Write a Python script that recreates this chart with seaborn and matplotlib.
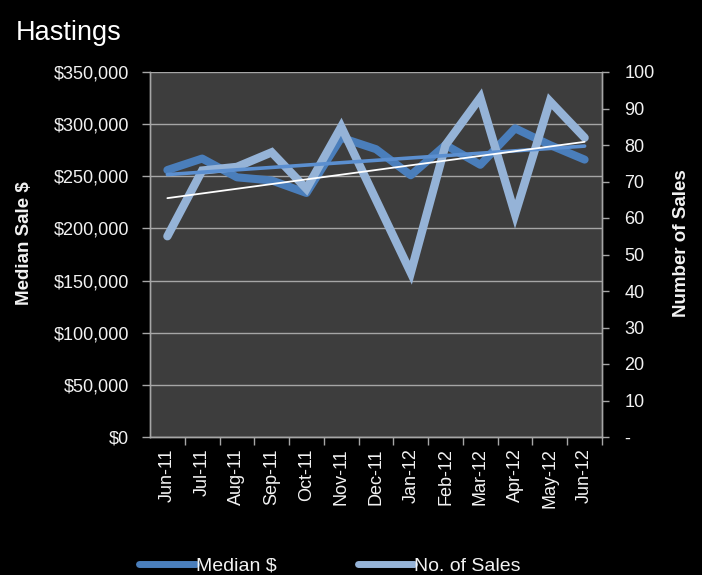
import numpy as np
import matplotlib
matplotlib.use("Agg")
import matplotlib.pyplot as plt
import matplotlib.ticker as mticker
import seaborn as sns

# ---- data ----
months = ["Jun-11", "Jul-11", "Aug-11", "Sep-11", "Oct-11", "Nov-11", "Dec-11",
          "Jan-12", "Feb-12", "Mar-12", "Apr-12", "May-12", "Jun-12"]
median_price = [256000, 267000, 249000, 246000, 234000, 287000, 276000,
                251000, 280000, 261000, 296000, 280000, 266000]
num_sales = [55, 73, 74, 78, 68, 85, 65, 45, 80, 93, 61, 92, 82]
left_ticks = [0, 50000, 100000, 150000, 200000, 250000, 300000, 350000]
right_ticks = [0, 10, 20, 30, 40, 50, 60, 70, 80, 90, 100]
title = "Hastings"

# ---- style ----
sns.set_style("dark", rc={"axes.facecolor": "#3d3d3d", "figure.facecolor": "black"})
plt.rcParams["font.family"] = ["Liberation Sans", "DejaVu Sans"]

C_MED = "#4a7ebb"
C_SALES = "#95b3d7"
C_MTREND = "#5b8fd0"
TXT = "#f2f2f2"
GRID = "#a6a6a6"

fig = plt.figure(figsize=(7.02, 5.75), dpi=100, facecolor="black")
ax1 = fig.add_axes([150 / 702, 1 - 437 / 575, 452 / 702, 365 / 575])
ax1.set_facecolor("#3d3d3d")
ax2 = ax1.twinx()
ax2.patch.set_visible(False)

x = np.arange(len(months))

sns.lineplot(x=x, y=median_price, ax=ax1, color=C_MED, lw=5.8,
             solid_joinstyle="round", solid_capstyle="round", label="Median $", legend=False)
sns.lineplot(x=x, y=num_sales, ax=ax2, color=C_SALES, lw=6,
             solid_joinstyle="miter", solid_capstyle="round", label="No. of Sales", legend=False)

# linear trendlines computed from the data
pm = np.polyfit(x, median_price, 1)
ps = np.polyfit(x, num_sales, 1)
xt = np.array([x[0], x[-1]])
ax2.plot(xt, np.polyval(pm, xt), color=C_MTREND, lw=2.6, transform=ax1.transData, zorder=5)
ax2.plot(xt, np.polyval(ps, xt), color="white", lw=1.3, zorder=6)

# axes limits / ticks
ax1.set_xlim(-0.5, len(months) - 0.5)
ax1.set_ylim(0, 350000)
ax2.set_ylim(0, 100)
ax1.set_yticks(left_ticks)
ax2.set_yticks(right_ticks)
ax1.yaxis.set_major_formatter(mticker.FuncFormatter(lambda v, p: f"${v:,.0f}"))
ax2.yaxis.set_major_formatter(mticker.FuncFormatter(lambda v, p: "-" if v == 0 else f"{v:.0f}"))

ax1.set_xticks(np.arange(len(months)) + 0.5)
ax1.set_xticklabels([])
ax1.set_xticks(x, minor=True)
ax1.set_xticklabels(months, minor=True, rotation=90)
ax1.tick_params(axis="x", which="major", length=6, color=GRID, width=1, direction="out", bottom=True)
ax1.tick_params(axis="x", which="minor", length=0, pad=8, labelsize=13, labelcolor=TXT, bottom=True)
ax1.tick_params(axis="y", length=6, color=GRID, width=1, pad=9, labelsize=13,
                labelcolor=TXT, left=True, direction="out")
ax2.tick_params(axis="y", length=5, color=GRID, width=1, pad=11, labelsize=13,
                labelcolor=TXT, right=True, direction="out")

ax1.grid(axis="y", color=GRID, lw=1)
ax1.grid(axis="x", visible=False)
ax2.grid(False)

for a in (ax1, ax2):
    for side in ("left", "bottom", "right"):
        a.spines[side].set_visible(True)
        a.spines[side].set_color(GRID)
        a.spines[side].set_linewidth(1)
    a.spines["top"].set_visible(False)

ax1.set_xlabel("")
ax1.set_ylabel("Median Sale $", color=TXT, fontsize=13.5, fontweight="bold")
ax2.set_ylabel("Number of Sales", color=TXT, fontsize=13.5, fontweight="bold")
ax1.yaxis.set_label_coords((33 - 150) / 452, 0.53)
ax2.yaxis.set_label_coords((673 - 150) / 452, 0.53)
ax2.yaxis.label.set_rotation(90)

fig.text(16 / 702, 1 - 33 / 575, title, color="white", fontsize=19.5, va="center", ha="left")

handles = [ax1.get_lines()[0], ax2.get_lines()[0]]
leg = fig.legend(handles, ["Median $", "No. of Sales"], loc="center",
                 bbox_to_anchor=(330 / 702, 1 - 566 / 575), ncol=2, frameon=False,
                 fontsize=14, handlelength=2.9, handletextpad=0.0, columnspacing=4.2,
                 labelcolor=TXT, borderpad=0, borderaxespad=0)
for h in leg.legend_handles:
    h.set_linewidth(5)

fig.savefig("out.png", dpi=100, facecolor="black")
